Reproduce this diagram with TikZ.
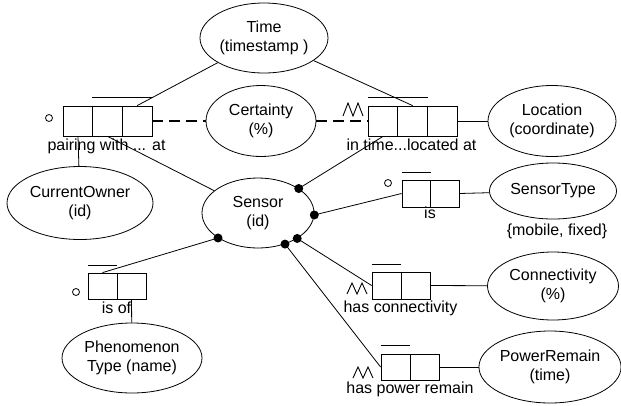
\documentclass[tikz,border=0pt]{standalone}
\usepackage{fontspec}
\setmainfont{Liberation Sans}
\usetikzlibrary{shapes.geometric}
\begin{document}
\begin{tikzpicture}[x=1pt,y=-1pt,
  ent/.style={ellipse,draw,line width=0.8pt,inner sep=0pt,align=center,font=\fontsize{16}{18.5}\selectfont},
  cell/.style={draw,line width=0.8pt,inner sep=0pt,minimum width=29.6pt,minimum height=30pt},
  scell/.style={draw,line width=0.8pt,inner sep=0pt,minimum width=29pt,minimum height=27pt},
  lab/.style={font=\fontsize{16}{18.5}\selectfont,inner sep=0pt,anchor=base},
  conn/.style={line width=0.8pt},
  dashconn/.style={line width=2.8pt,dash pattern=on 11pt off 6pt},
  dot/.style={circle,fill,inner sep=0pt,minimum size=9pt},
  ring/.style={circle,draw,line width=0.8pt,inner sep=0pt,minimum size=7pt},
  zig/.style={line width=0.9pt},
  bar/.style={line width=0.8pt}]
\useasboundingbox (0,0) rectangle (621,405);

% entities
\node[ent,minimum width=128pt,minimum height=70pt] (Time) at (264,38) {Time\\(timestamp )};
\node[ent,minimum width=110pt,minimum height=71pt] (Certainty) at (261,121) {Certainty\\(\%)};
\node[ent,minimum width=128pt,minimum height=71pt] (Location) at (552,121) {Location\\(coordinate)};
\node[ent,minimum width=146pt,minimum height=73pt] (Owner) at (80,203) {CurrentOwner\\(id)};
\node[ent,minimum width=112pt,minimum height=70pt] (Sensor) at (258,213) {Sensor\\(id)};
\node[ent,minimum width=127pt,minimum height=56pt] (SType) at (553,191) {SensorType};
\node[ent,minimum width=131pt,minimum height=68pt] (Conn) at (553,286) {Connectivity\\(\%)};
\node[ent,minimum width=140pt,minimum height=72pt] (Power) at (550,367) {PowerRemain\\(time)};
\node[ent,minimum width=140pt,minimum height=70pt] (Phen) at (132,358) {Phenomenon\\Type (name)};

% fact boxes
\node[cell] (l1) at (78,121) {};
\node[cell] (l2) at (107.6,121) {};
\node[cell] (l3) at (137.2,121) {};
\node[cell] (r1) at (383,121) {};
\node[cell] (r2) at (412.6,121) {};
\node[cell] (r3) at (442.2,121) {};
\node[scell,minimum width=28.5pt] (s1) at (416.25,193.5) {};
\node[scell,minimum width=28.5pt] (s2) at (444.75,193.5) {};
\node[scell] (c1) at (386.5,285.5) {};
\node[scell] (c2) at (415.5,285.5) {};
\node[scell,minimum height=26pt] (p1) at (395.5,367) {};
\node[scell,minimum height=26pt] (p2) at (424.5,367) {};
\node[scell,minimum height=26pt] (h1) at (102.5,286) {};
\node[scell,minimum height=26pt] (h2) at (131.5,286) {};

% uniqueness bars
\draw[bar] ([yshift=8pt]l2.north west) -- ([yshift=8pt]l3.north east);
\draw[bar] ([yshift=8pt]r1.north west) -- ([yshift=8pt]r2.north east);
\draw[bar] ([yshift=7pt]s1.north west) -- ([yshift=7pt]s1.north east);
\draw[bar] ([yshift=7pt]c1.north west) -- ([yshift=7pt]c1.north east);
\draw[bar] ([yshift=8pt]p1.north west) -- ([yshift=8pt]p1.north east);
\draw[bar] ([yshift=7pt]h1.north west) -- ([yshift=7pt]h1.north east);

% rings
\node[ring] (o1) at (49,118) {};
\node[ring] (o2) at (388,183) {};
\node[ring] (o3) at (76,292) {};

% zigzags
\draw[zig] (343,116) -- ++(5,-13) -- ++(5,13) -- ++(5,-13) -- ++(5,13);
\draw[zig] (347,294) -- ++(5,-11) -- ++(5,11) -- ++(5,-11) -- ++(5,11);
\draw[zig] (353,378) -- ++(5,-11) -- ++(5,11) -- ++(5,-11) -- ++(5,11);

% labels
\node[lab] (lp) at (106.5,150) {pairing with ... at};
\node[lab] (lr) at (411.5,150) {in time...located at};
\node[lab] (ls) at (430,218) {is};
\node[lab] (lm) at (557,235.5) {\{mobile, fixed\}};
\node[lab] (lc) at (400.5,312) {has connectivity};
\node[lab] (lw) at (410,393) {has power remain};
\node[lab] (lh) at (116.5,313) {is of};

% sensor role dots
\coordinate (d1) at (Sensor.31);
\coordinate (d2) at (Sensor.-2);
\coordinate (d3) at (Sensor.-33);
\coordinate (d4) at (Sensor.-49);
\coordinate (d5) at (Sensor.212);

% connectors
\draw[conn] (l3.north) -- (Time);
\draw[conn] (r2.north) -- (Time);
\draw[conn] (l2.south) -- (Sensor);
\draw[conn] (l1.south) -- (Owner);
\draw[conn] (r1.south) -- (d1);
\draw[conn] (r3.east) -- (Location);
\draw[conn] (d2) -- (s1.west);
\draw[conn] (s2.east) -- (SType);
\draw[conn] (d3) -- (c1.west);
\draw[conn] (c2.east) -- (Conn);
\draw[conn] (d4) -- (p1.west);
\draw[conn] (p2.east) -- (Power);
\draw[conn] (d5) -- (h1.north);
\draw[conn] (h2.south) -- (Phen);
\draw[dashconn] (l3.east) -- (Certainty);
\draw[dashconn] (Certainty) -- (r1.west);

\foreach \d in {d1,d2,d3,d4,d5} \node[dot] at (\d) {};
\end{tikzpicture}
\end{document}
